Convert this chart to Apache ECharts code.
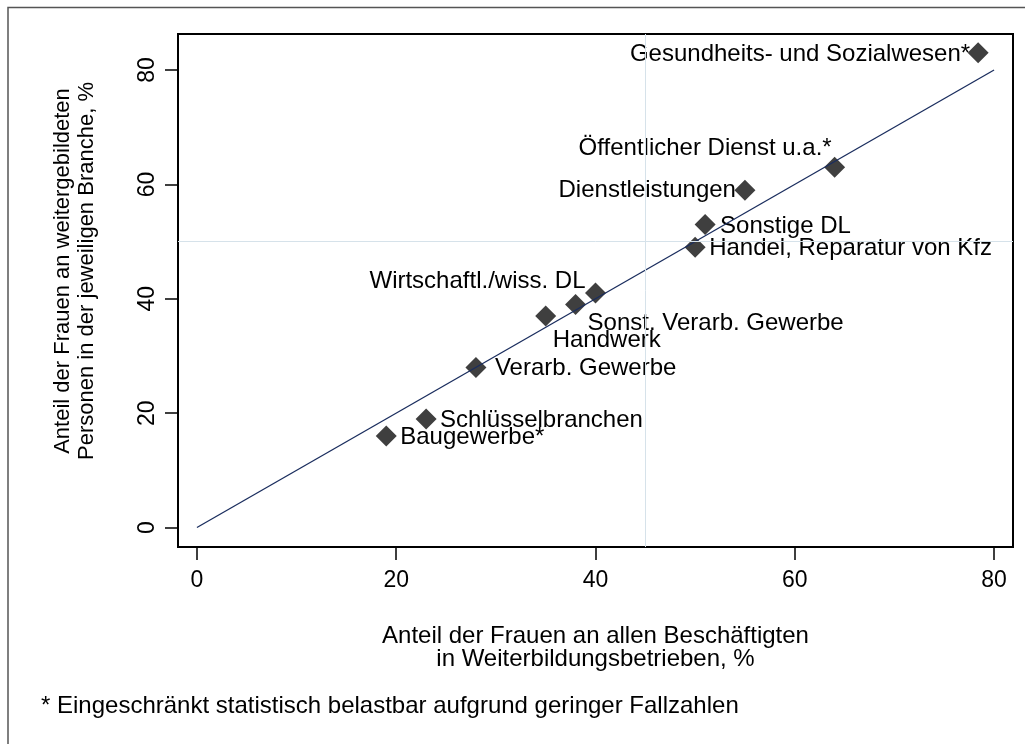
<!DOCTYPE html>
<html>
<head>
<meta charset="utf-8">
<script src="https://cdn.jsdelivr.net/npm/echarts@6/dist/echarts.min.js"></script>
<style>
html,body{margin:0;padding:0;background:#fff;}
#chart{width:1025px;height:744px;}
</style>
</head>
<body>
<div id="chart"></div>
<script>
// ---- data ----
const names = [
  'Gesundheits- und Sozialwesen*',
  'Öffentlicher Dienst u.a.*',
  'Dienstleistungen',
  'Sonstige DL',
  'Handel, Reparatur von Kfz',
  'Handwerk',
  'Sonst. Verarb. Gewerbe',
  'Wirtschaftl./wiss. DL',
  'Verarb. Gewerbe',
  'Schlüsselbranchen',
  'Baugewerbe*'
];
const xValues = [78.4, 64, 55, 51, 50, 35, 38, 40, 28, 23, 19];
const yValues = [83, 63, 59, 53, 49, 37, 39, 41, 28, 19, 16];
const diagX = [0, 80];
const diagY = [0, 80];
const refX = 45;
const refY = 50;
const xTicks = [0, 20, 40, 60, 80];
const yTicks = [0, 20, 40, 60, 80];
const xTitle = ['Anteil der Frauen an allen Beschäftigten', 'in Weiterbildungsbetrieben, %'];
const yTitle = ['Anteil der Frauen an weitergebildeten', 'Personen in der jeweiligen Branche, %'];
const footnote = '* Eingeschränkt statistisch belastbar aufgrund geringer Fallzahlen';

// ---- label placement (pixel offsets from marker centre) ----
const labelPlace = [
  {align: 'right', dx: -8, dy: 2},
  {align: 'right', dx: -3, dy: -19},
  {align: 'right', dx: -9, dy: 0},
  {align: 'left', dx: 15, dy: 2},
  {align: 'left', dx: 14, dy: 1},
  {align: 'left', dx: 7, dy: 24},
  {align: 'left', dx: 12, dy: 19},
  {align: 'right', dx: -10, dy: -12},
  {align: 'left', dx: 19, dy: 1},
  {align: 'left', dx: 14, dy: 1},
  {align: 'left', dx: 14, dy: 1}
];

const FONT = '"Liberation Sans", Arial, sans-serif';
const FS_LABEL = 24;
const FS_TICK = 23;
const FS_YT = 22;
const SYM = 21;

const scatterData = names.map((n, i) => ({
  name: n,
  value: [xValues[i], yValues[i]],
  label: {
    show: true,
    formatter: n,
    color: '#000',
    fontSize: FS_LABEL,
    fontFamily: FONT,
    position: [SYM / 2 + labelPlace[i].dx, SYM / 2 + labelPlace[i].dy],
    align: labelPlace[i].align,
    verticalAlign: 'middle'
  }
}));

const chart = echarts.init(document.getElementById('chart'), null, {renderer: 'canvas'});
chart.setOption({
  animation: false,
  backgroundColor: '#fff',
  grid: {left: 178, right: 12, top: 34, bottom: 197, show: true, borderColor: '#000', borderWidth: 2, backgroundColor: 'transparent'},
  xAxis: {
    type: 'value', min: -1.9, max: 81.9,
    axisLine: {show: true, onZero: false, lineStyle: {color: '#000', width: 2}},
    axisTick: {show: true, length: 13, customValues: xTicks, lineStyle: {color: '#000', width: 1.5}},
    axisLabel: {customValues: xTicks, fontSize: FS_TICK, fontFamily: FONT, color: '#000', margin: 22},
    splitLine: {show: false}
  },
  yAxis: {
    type: 'value', min: -3.4, max: 86.3,
    axisLine: {show: true, onZero: false, lineStyle: {color: '#000', width: 2}},
    axisTick: {show: true, length: 13, customValues: yTicks, lineStyle: {color: '#000', width: 1.5}},
    axisLabel: {customValues: yTicks, rotate: 90, fontSize: FS_TICK, fontFamily: FONT, color: '#000', margin: 19},
    splitLine: {show: false}
  },
  series: [
    {
      type: 'line', z: 1, silent: true, data: [],
      markLine: {
        silent: true, symbol: 'none', label: {show: false},
        lineStyle: {color: '#d6e2ea', width: 1, type: 'solid'},
        data: [{xAxis: refX}, {yAxis: refY}]
      }
    },
    {
      type: 'scatter', z: 2, symbol: 'diamond', symbolSize: SYM,
      itemStyle: {color: '#3f3f3f', opacity: 1},
      emphasis: {disabled: true},
      data: scatterData
    },
    {
      type: 'line', z: 3, showSymbol: false, silent: true,
      lineStyle: {color: '#1a2d5e', width: 1.3},
      data: diagX.map((x, i) => [x, diagY[i]])
    }
  ],
  graphic: [
    {type: 'rect', shape: {x: 8, y: 7.5, width: 1100, height: 900}, style: {fill: 'none', stroke: '#555', lineWidth: 1.5}, silent: true},
    {type: 'text', x: 595.5, y: 636, style: {text: xTitle[0], font: FS_LABEL + 'px ' + FONT, fill: '#000', textAlign: 'center', textVerticalAlign: 'middle'}},
    {type: 'text', x: 595.5, y: 659, style: {text: xTitle[1], font: FS_LABEL + 'px ' + FONT, fill: '#000', textAlign: 'center', textVerticalAlign: 'middle'}},
    {type: 'text', x: 63, y: 271, rotation: Math.PI / 2, style: {text: yTitle[0], font: FS_YT + 'px ' + FONT, fill: '#000', textAlign: 'center', textVerticalAlign: 'middle'}},
    {type: 'text', x: 87, y: 271, rotation: Math.PI / 2, style: {text: yTitle[1], font: FS_YT + 'px ' + FONT, fill: '#000', textAlign: 'center', textVerticalAlign: 'middle'}},
    {type: 'text', x: 41, y: 706, style: {text: footnote, font: FS_LABEL + 'px ' + FONT, fill: '#000', textAlign: 'left', textVerticalAlign: 'middle'}}
  ]
});
</script>
</body>
</html>
